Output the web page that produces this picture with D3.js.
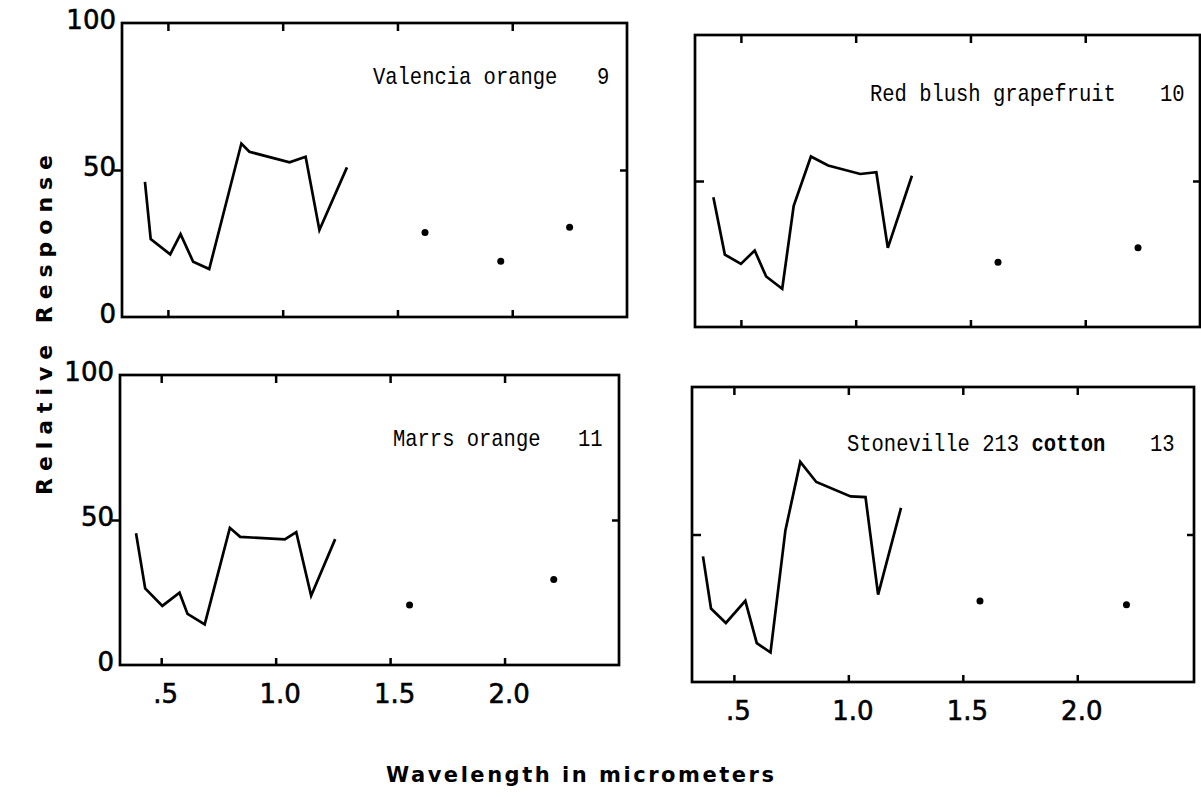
<!DOCTYPE html>
<html>
<head>
<meta charset="utf-8">
<script src="https://cdn.jsdelivr.net/npm/d3@7"></script>
<style>
body { margin: 0; background: #fff; }
</style>
</head>
<body>
<div class="chart"></div>
<script>
const WIDTH = 1201;
const HEIGHT = 798;
const CHAR_W = 12.3;
const MONO_SIZE = 23;

// wavelength (micrometers) / relative response
var valenciaWave = [0.40, 0.425, 0.51, 0.555, 0.61, 0.68, 0.82, 0.855, 1.03, 1.10, 1.16, 1.28];
var valenciaResp = [46, 26.5, 21.3, 28.2, 18.8, 16.3, 59, 56.2, 52.6, 54.5, 29.6, 50.9];
var valenciaDotWave = [1.62, 1.95, 2.25];
var valenciaDotResp = [28.7, 19, 30.5];

var grapefruitWave = [0.38, 0.43, 0.50, 0.56, 0.61, 0.68, 0.73, 0.805, 0.88, 1.02, 1.09, 1.14, 1.245];
var grapefruitResp = [44.4, 24.8, 21.6, 26.2, 17.3, 13.1, 41.5, 58.4, 55.3, 52.4, 53, 27.1, 51.8];
var grapefruitDotWave = [1.62, 2.23];
var grapefruitDotResp = [22.2, 27.1];

var marrsWave = [0.39, 0.43, 0.505, 0.58, 0.615, 0.69, 0.80, 0.845, 1.04, 1.09, 1.155, 1.26];
var marrsResp = [45.4, 26.4, 20.4, 24.9, 17.6, 14, 47.3, 44.2, 43.3, 45.8, 23.9, 43.4];
var marrsDotWave = [1.585, 2.215];
var marrsDotResp = [20.7, 29.5];

var cottonWave = [0.365, 0.40, 0.465, 0.55, 0.60, 0.66, 0.725, 0.79, 0.86, 1.01, 1.075, 1.13, 1.23];
var cottonResp = [42.6, 24.9, 20, 27.5, 13.2, 10, 51.4, 74.6, 67.8, 62.9, 62.7, 29.6, 59];
var cottonDotWave = [1.575, 2.215];
var cottonDotResp = [27.5, 26.2];

var xTickValues = [0.5, 1.0, 1.5, 2.0];
var xTickLabels = ['.5', '1.0', '1.5', '2.0'];
var yTickValues = [0, 50, 100];
var yTickLabels = ['0', '50', '100'];

var panelNames = ['Valencia orange', 'Red blush grapefruit', 'Marrs orange', 'Stoneville 213'];
var panelBoldWords = ['', '', '', 'cotton'];
var panelNumbers = ['9', '10', '11', '13'];

var translate = function (x, y) {
  return 'translate(' + x + ',' + y + ')';
};

var zip = function (xs, ys) {
  return xs.map(function (d, i) { return {w: d, r: ys[i]}; });
};

// layout of each box on the page
var panels = [
  {left: 122, right: 627, top: 23, bottom: 317, dom: [0.3, 2.5], yLabels: true, xLabels: false, leftOut: true,
   nameX: 373, numX: 597, textY: 84, name: panelNames[0], bold: panelBoldWords[0], num: panelNumbers[0],
   line: zip(valenciaWave, valenciaResp), dots: zip(valenciaDotWave, valenciaDotResp)},
  {left: 695, right: 1200, top: 35, bottom: 327, dom: [0.3, 2.5], yLabels: false, xLabels: false, leftOut: false,
   nameX: 870, numX: 1160, textY: 101, name: panelNames[1], bold: panelBoldWords[1], num: panelNumbers[1],
   line: zip(grapefruitWave, grapefruitResp), dots: zip(grapefruitDotWave, grapefruitDotResp)},
  {left: 120, right: 619, top: 375, bottom: 665, dom: [0.32, 2.5], yLabels: true, xLabels: true, leftOut: true,
   nameX: 393, numX: 578, textY: 446, name: panelNames[2], bold: panelBoldWords[2], num: panelNumbers[2],
   line: zip(marrsWave, marrsResp), dots: zip(marrsDotWave, marrsDotResp)},
  {left: 692, right: 1194, top: 387, bottom: 682, dom: [0.317, 2.51], yLabels: false, xLabels: true, leftOut: false,
   nameX: 847, numX: 1150, textY: 451, name: panelNames[3], bold: panelBoldWords[3], num: panelNumbers[3],
   line: zip(cottonWave, cottonResp), dots: zip(cottonDotWave, cottonDotResp)}
];

var blank = function () { return ''; };

var styleAxis = function (g) {
  g.select('.domain').remove();
  g.selectAll('line').attr('stroke', '#000').attr('stroke-width', 2.5);
  g.selectAll('text')
    .attr('fill', '#000')
    .attr('stroke', '#000')
    .attr('stroke-width', 0.6)
    .style('font-family', '"DejaVu Sans", sans-serif')
    .style('font-size', '26px');
};

// typewriter text squeezed to the pitch of the original
var typeText = function (g, x, y, str, bold) {
  var squeeze = CHAR_W / (MONO_SIZE * 0.6);
  return g.append('text')
    .attr('transform', translate(x, y) + ' scale(' + squeeze + ',1)')
    .style('font-family', '"Liberation Mono", "Courier New", monospace')
    .style('font-size', MONO_SIZE + 'px')
    .style('font-weight', bold ? 'bold' : 'normal')
    .attr('fill', '#000')
    .text(str);
};

var drawPanel = function (svg, p) {
  var x = d3.scaleLinear().domain(p.dom).range([p.left, p.right]);
  var y = d3.scaleLinear().domain([0, 100]).range([p.bottom, p.top]);
  var g = svg.append('g');

  g.append('rect')
    .attr('x', p.left).attr('y', p.top)
    .attr('width', p.right - p.left).attr('height', p.bottom - p.top)
    .attr('fill', 'none').attr('stroke', '#000').attr('stroke-width', 2.7);

  g.append('g')
    .attr('transform', translate(0, p.bottom))
    .call(d3.axisBottom(x).tickValues(xTickValues).tickSizeInner(-7).tickSizeOuter(0)
      .tickPadding(20)
      .tickFormat(p.xLabels ? function (d, i) { return xTickLabels[i]; } : blank))
    .call(styleAxis)
    .selectAll('text').attr('dx', 4);

  g.append('g')
    .attr('transform', translate(0, p.top))
    .call(d3.axisTop(x).tickValues(xTickValues).tickSizeInner(-8).tickSizeOuter(0).tickFormat(blank))
    .call(styleAxis);

  g.append('g')
    .attr('transform', translate(p.left, 0))
    .call(d3.axisLeft(y).tickValues([50]).tickSizeInner(p.leftOut ? 8 : -9).tickSizeOuter(0).tickFormat(blank))
    .call(styleAxis);

  g.append('g')
    .attr('transform', translate(p.right, 0))
    .call(d3.axisRight(y).tickValues([50]).tickSizeInner(-7).tickSizeOuter(0).tickFormat(blank))
    .call(styleAxis);

  if (p.yLabels) {
    g.append('g')
      .attr('transform', translate(p.left, -3))
      .call(d3.axisLeft(y).tickValues(yTickValues).tickSize(0).tickPadding(6)
        .tickFormat(function (d, i) { return yTickLabels[i]; }))
      .call(styleAxis);
  }

  var line = d3.line()
    .x(function (d) { return x(d.w); })
    .y(function (d) { return y(d.r); });

  g.append('path')
    .attr('d', line(p.line))
    .attr('fill', 'none')
    .attr('stroke', '#000')
    .attr('stroke-width', 2.7)
    .attr('stroke-linejoin', 'miter');

  g.selectAll('.dot')
    .data(p.dots)
    .enter().append('circle')
    .attr('cx', function (d) { return x(d.w); })
    .attr('cy', function (d) { return y(d.r); })
    .attr('r', 3.5);

  typeText(g, p.nameX, p.textY, p.name, false);
  if (p.bold) {
    typeText(g, p.nameX + (p.name.length + 1) * CHAR_W, p.textY, p.bold, true);
  }
  typeText(g, p.numX, p.textY, p.num, false);
};

window.onload = function () {
  var svg = d3.select('.chart').append('svg')
    .attr('width', WIDTH)
    .attr('height', HEIGHT)
    .style('display', 'block')
    .style('background', '#fff');

  panels.forEach(function (p) { drawPanel(svg, p); });

  svg.append('text')
    .attr('transform', translate(52, 325) + ' rotate(-90)')
    .attr('text-anchor', 'middle')
    .attr('textLength', 340)
    .attr('lengthAdjust', 'spacing')
    .style('font-family', '"DejaVu Sans", sans-serif')
    .style('font-weight', 'bold')
    .style('font-size', '22px')
    .text('Relative  Response');

  svg.append('text')
    .attr('x', 580).attr('y', 782)
    .attr('text-anchor', 'middle')
    .attr('textLength', 388)
    .attr('lengthAdjust', 'spacing')
    .style('font-family', '"DejaVu Sans", sans-serif')
    .style('font-weight', 'bold')
    .style('font-size', '21px')
    .text('Wavelength in micrometers');
};
</script>
</body>
</html>
